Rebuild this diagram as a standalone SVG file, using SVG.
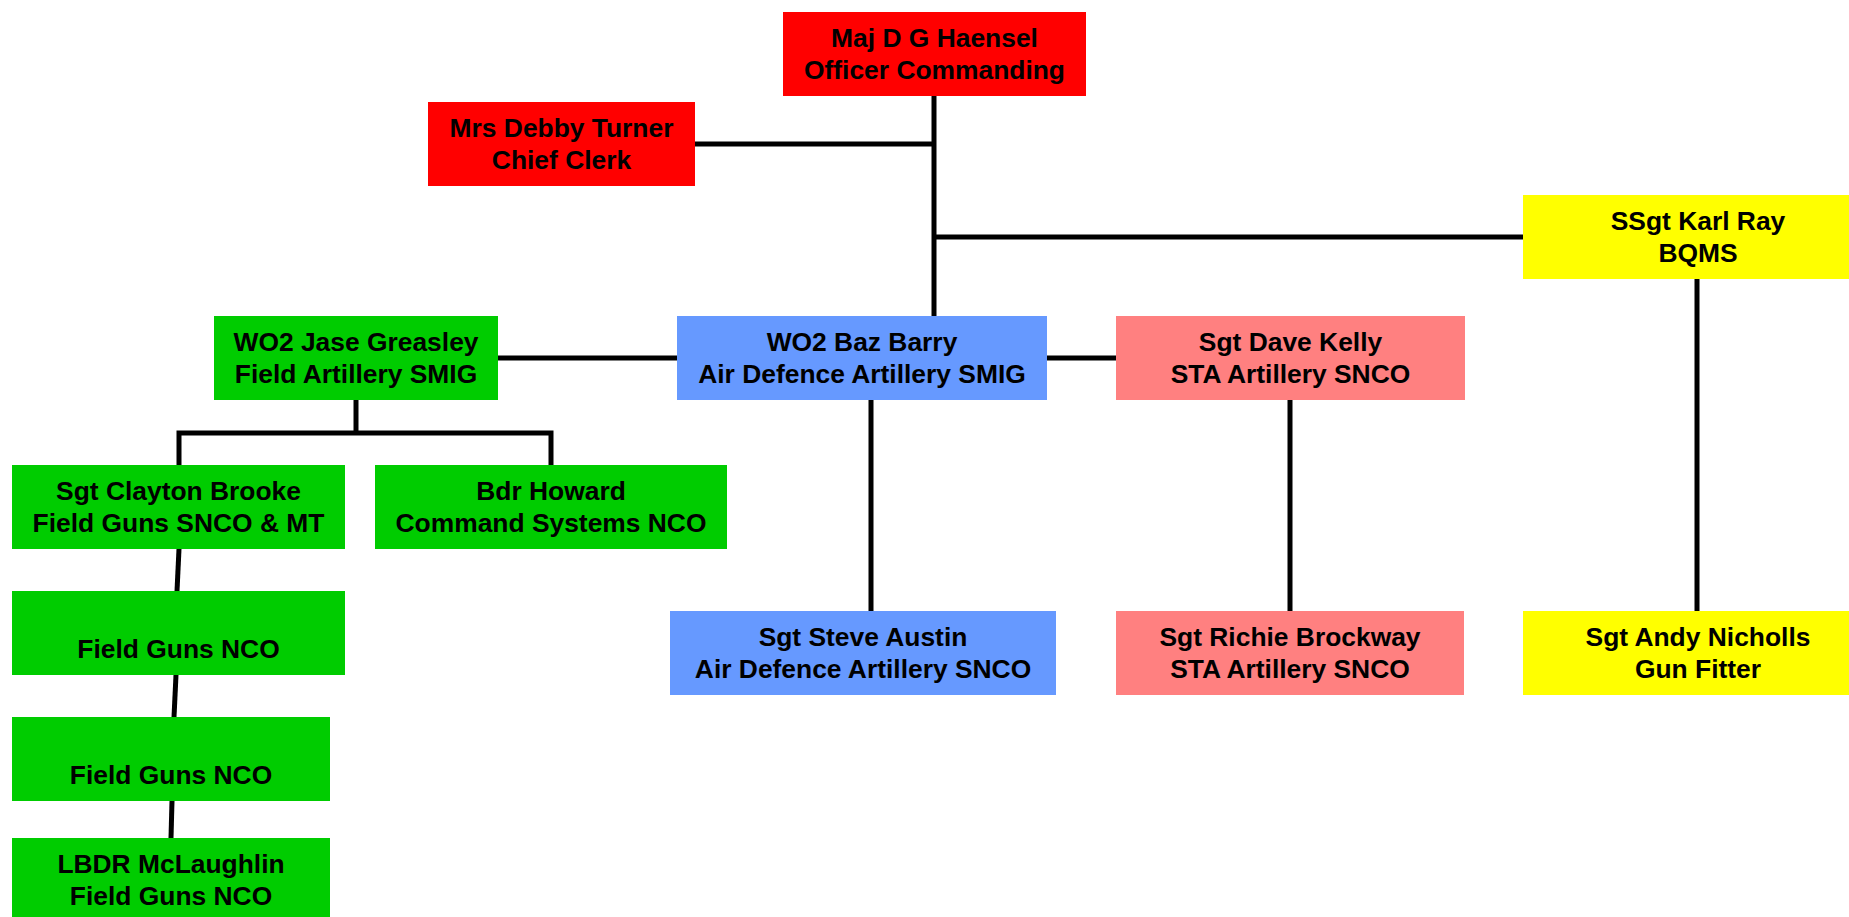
<svg xmlns="http://www.w3.org/2000/svg" width="1849" height="917" viewBox="0 0 1849 917" font-family="Liberation Sans, Arial, Helvetica, sans-serif">
<style>
text{font-family:'Liberation Sans',Arial,Helvetica,sans-serif;font-weight:700;font-size:26.4px;text-anchor:middle;fill:#000}
.red{fill:#FF0000}.blue{fill:#6699FF}.green{fill:#00CC00}.pink{fill:#FF8080}.yellow{fill:#FFFF00}
.c{stroke:#000;stroke-width:5;fill:none}
</style>
<rect width="1849" height="917" fill="#fff"/>
<g id="connectors">
<line class="c" x1="934" y1="96" x2="934" y2="316"/>
<line class="c" x1="695" y1="144" x2="934" y2="144"/>
<line class="c" x1="934" y1="237" x2="1523" y2="237"/>
<line class="c" x1="1697" y1="279" x2="1697" y2="611"/>
<line class="c" x1="498" y1="358" x2="677" y2="358"/>
<line class="c" x1="1047" y1="358" x2="1116" y2="358"/>
<line class="c" x1="871" y1="400" x2="871" y2="611"/>
<line class="c" x1="1290" y1="400" x2="1290" y2="611"/>
<polyline class="c" points="356,400 356,433"/>
<polyline class="c" points="179,465 179,433 551,433 551,465"/>
<line class="c" x1="179" y1="549" x2="177" y2="591"/>
<line class="c" x1="176" y1="675" x2="174" y2="717"/>
<line class="c" x1="172" y1="801" x2="171" y2="838"/>
</g>
<g id="maj"><rect class="red" x="783" y="12" width="303" height="84"/><text x="934.5" y="47">Maj D G Haensel</text><text x="934.5" y="79">Officer Commanding</text></g>
<g id="turner"><rect class="red" x="428" y="102" width="267" height="84"/><text x="561.5" y="137">Mrs Debby Turner</text><text x="561.5" y="169">Chief Clerk</text></g>
<g id="ray"><rect class="yellow" x="1523" y="195" width="350" height="84"/><text x="1698" y="230">SSgt Karl Ray</text><text x="1698" y="262">BQMS</text></g>
<g id="greasley"><rect class="green" x="214" y="316" width="284" height="84"/><text x="356" y="351">WO2 Jase Greasley</text><text x="356" y="383">Field Artillery SMIG</text></g>
<g id="barry"><rect class="blue" x="677" y="316" width="370" height="84"/><text x="862" y="351">WO2 Baz Barry</text><text x="862" y="383">Air Defence Artillery SMIG</text></g>
<g id="kelly"><rect class="pink" x="1116" y="316" width="349" height="84"/><text x="1290.5" y="351">Sgt Dave Kelly</text><text x="1290.5" y="383">STA Artillery SNCO</text></g>
<g id="brooke"><rect class="green" x="12" y="465" width="333" height="84"/><text x="178.5" y="500">Sgt Clayton Brooke</text><text x="178.5" y="532">Field Guns SNCO &amp; MT</text></g>
<g id="howard"><rect class="green" x="375" y="465" width="352" height="84"/><text x="551" y="500">Bdr Howard</text><text x="551" y="532">Command Systems NCO</text></g>
<g id="fg1"><rect class="green" x="12" y="591" width="333" height="84"/><text x="178.5" y="658">Field Guns NCO</text></g>
<g id="fg2"><rect class="green" x="12" y="717" width="318" height="84"/><text x="171" y="784">Field Guns NCO</text></g>
<g id="mclaughlin"><rect class="green" x="12" y="838" width="318" height="84"/><text x="171" y="873">LBDR McLaughlin</text><text x="171" y="905">Field Guns NCO</text></g>
<g id="austin"><rect class="blue" x="670" y="611" width="386" height="84"/><text x="863" y="646">Sgt Steve Austin</text><text x="863" y="678">Air Defence Artillery SNCO</text></g>
<g id="brockway"><rect class="pink" x="1116" y="611" width="348" height="84"/><text x="1290" y="646">Sgt Richie Brockway</text><text x="1290" y="678">STA Artillery SNCO</text></g>
<g id="nicholls"><rect class="yellow" x="1523" y="611" width="350" height="84"/><text x="1698" y="646">Sgt Andy Nicholls</text><text x="1698" y="678">Gun Fitter</text></g>
</svg>
